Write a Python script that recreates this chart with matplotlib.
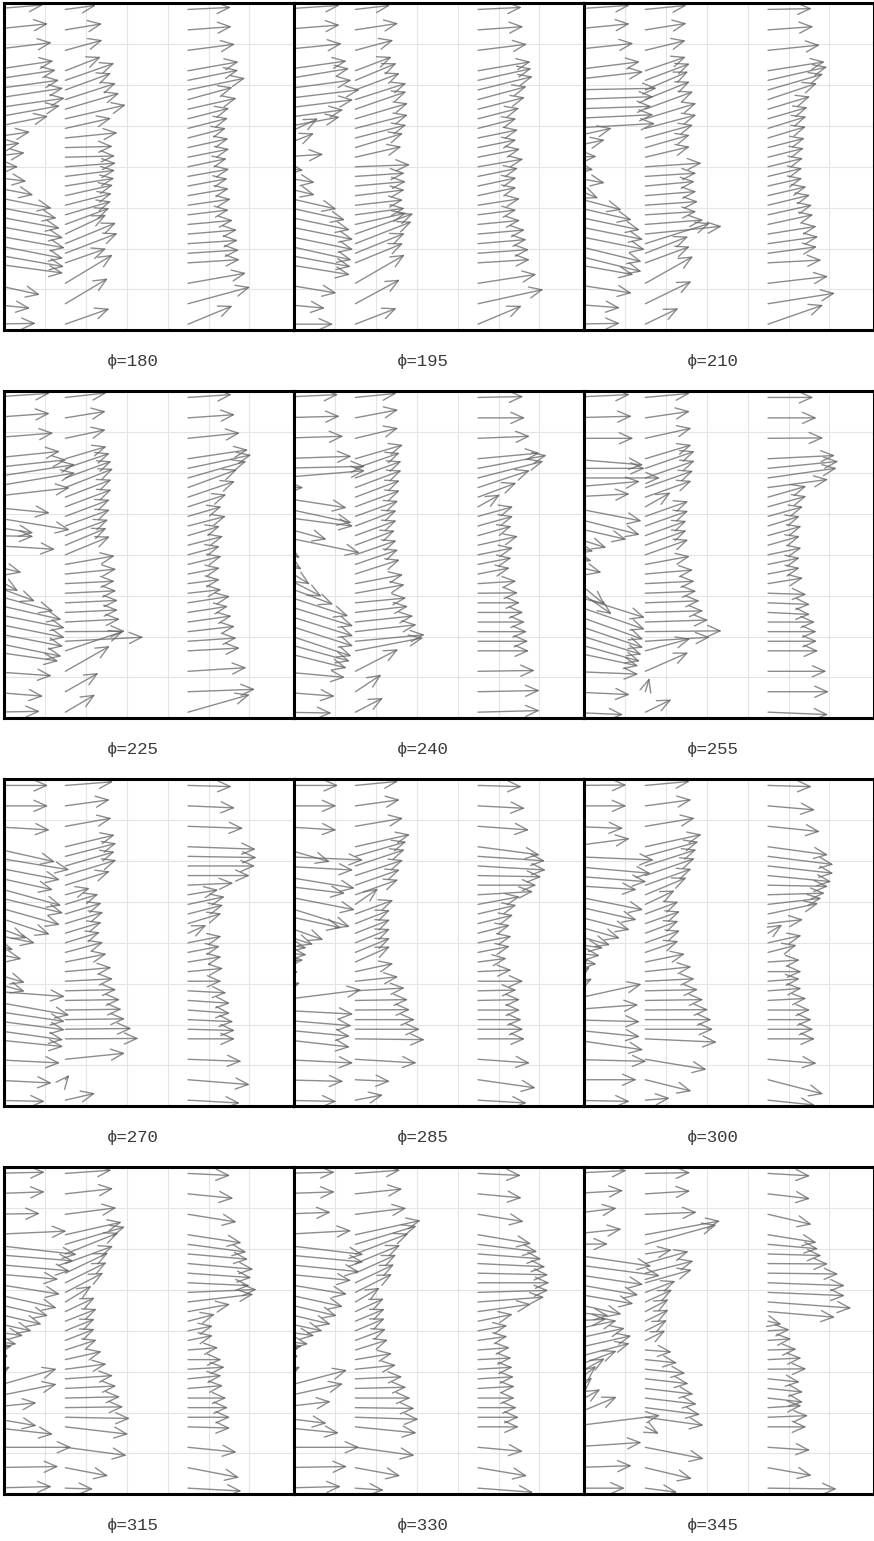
import numpy as np
import matplotlib.pyplot as plt
from matplotlib.patches import FancyArrowPatch

# heights of the sample points (same for every station)
heights = [7.85, 7.35, 6.85, 6.35, 6.115, 5.88, 5.645, 5.41, 5.175, 4.94, 4.705,
           4.47, 4.235, 4.0, 3.765, 3.53, 3.295, 3.06, 2.825, 2.59, 2.355, 2.12,
           1.885, 1.65, 1.15, 0.65, 0.15]
stations = [-0.4, 1.5, 4.5]
phases = [180, 195, 210, 225, 240, 255, 270, 285, 300, 315, 330, 345]

# u, v per phase: one row per station, one value per height
u_180 = [[1.36,1.48,1.57,1.61,1.67,1.75,1.85,1.89,1.77,1.48,1.04,0.79,0.91,0.75,0.95,1.12,1.57,1.69,1.77,1.85,1.89,1.85,1.87,1.85,1.28,1.04,1.18],
         [.75,.9,.91,.87,1.2,1.12,1.24,1.32,1.48,1.12,1.28,1.16,1.22,1.24,1.22,1.2,1.17,1.14,1.12,1.08,1.0,1.24,1.28,1.0,1.16,1.04,1.08],
         [1.05,1.07,1.15,1.24,1.23,1.40,1.09,1.19,1.01,.98,.93,.99,1.01,.95,1.01,.97,1.0,1.05,1.0,1.1,1.2,1.22,1.25,1.27,1.42,1.52,1.09]]
v_180 = [[.11,.15,.19,.24,.25,.24,.28,.27,.32,.30,.15,.11,.11,0,-.12,-.22,-.31,-.32,-.33,-.33,-.34,-.36,-.33,-.25,-.28,-.11,.02],
         [.1,.15,.25,.34,.42,.41,.4,.39,.34,.25,.13,.03,.03,.09,.15,.19,.26,.29,.33,.4,.47,.51,.49,.35,.7,.62,.38],
         [.05,.08,.15,.22,.25,.29,.30,.27,.26,.25,.24,.22,.2,.2,.18,.18,.17,.15,.12,.1,.1,.08,.08,.08,.25,.41,.45]]

u_195 = [[1.52,1.52,1.57,1.69,1.75,1.81,2.01,1.85,1.61,1.52,.99,.89,1.12,.63,.91,.91,1.44,1.65,1.77,1.85,1.85,1.81,1.79,1.77,1.44,1.16,1.36],
         [.85,1.05,.93,.89,1.01,1.09,1.25,1.25,1.29,1.29,1.25,1.17,1.13,1.34,1.21,1.24,1.21,1.17,1.21,1.25,1.42,1.38,1.21,1.17,1.21,1.09,1.01],
         [1.07,1.11,1.2,1.29,1.31,1.34,1.19,1.15,1.01,.94,.98,.94,1.03,1.11,.98,.94,.94,1.03,.94,1.03,1.15,1.19,1.25,1.27,1.43,1.6,1.07]]
v_195 = [[.1,.12,.16,.24,.29,.24,.24,.23,.22,.28,.48,.35,.07,-.09,-.15,-.22,-.33,-.36,-.37,-.37,-.38,-.4,-.33,-.29,-.24,-.11,0],
         [.1,.16,.25,.34,.42,.41,.4,.43,.38,.33,.32,.35,.26,.05,.08,.11,.14,.13,.16,.28,.5,.54,.49,.48,.7,.59,.39],
         [.05,.08,.15,.22,.29,.33,.32,.29,.26,.24,.2,.19,.2,.19,.2,.2,.2,.16,.12,.1,.1,.1,.09,.08,.22,.35,.45]]

u_210 = [[1.52,1.52,1.61,1.77,1.85,2.18,2.1,2.05,2.1,2.14,1.08,.91,.71,.63,.91,.75,1.32,1.57,1.77,1.85,1.89,1.81,1.81,1.61,1.57,1.28,1.28],
         [1.01,1.01,.99,.99,1.09,1.05,1.09,1.17,1.25,1.25,1.17,1.09,1.09,1.38,1.25,1.21,1.25,1.29,1.25,1.42,1.87,1.58,1.05,1.09,1.17,1.13,.81],
         [1.07,1.11,1.27,1.39,1.45,1.35,1.2,1.03,.97,.94,.93,.9,.88,.86,.84,.84,.94,1.03,1.08,1.11,1.19,1.23,1.2,1.31,1.47,1.64,1.35]]
v_210 = [[.1,.15,.17,.22,.21,.04,.07,.07,.1,.12,.24,.19,.02,-.07,-.16,-.3,-.35,-.36,-.37,-.37,-.38,-.44,-.45,-.29,-.24,-.1,.02],
         [.1,.16,.24,.34,.41,.45,.44,.43,.38,.33,.32,.31,.26,.09,.08,.11,.1,.09,.08,.11,.19,.5,.41,.4,.66,.55,.39],
         [.02,.08,.13,.22,.33,.39,.4,.31,.28,.29,.28,.23,.22,.21,.2,.19,.22,.25,.24,.24,.19,.17,.16,.07,.17,.26,.47]]

u_225 = [[1.52,1.52,1.61,1.77,1.93,2.14,2.14,2.01,1.52,2.01,1.12,1.12,1.65,.47,.83,.75,1.16,1.61,1.81,1.89,1.89,1.85,1.81,1.73,1.57,1.36,1.28],
         [1.01,.99,.99,1.01,1.09,1.13,1.17,1.13,1.13,1.09,1.09,1.05,1.01,1.09,1.21,1.25,1.21,1.25,1.29,1.29,1.34,1.46,1.91,1.42,1.09,.81,.73],
         [1.07,1.15,1.27,1.47,1.55,1.43,1.2,1.15,.94,.82,.93,.78,.86,.78,.82,.78,.78,.82,1.03,.98,1.07,1.15,1.19,1.27,1.43,1.64,1.51]]
v_225 = [[.1,.11,.13,.18,.21,.33,.36,.23,-.15,-.33,-.17,-.02,-.1,-.11,-.2,-.42,-.43,-.44,-.41,-.38,-.38,-.36,-.37,-.25,-.11,-.11,.02],
         [.11,.16,.21,.3,.37,.41,.46,.43,.42,.41,.4,.39,.42,.45,.21,.12,.06,.06,.06,.06,.07,.01,.1,.48,.62,.46,.43],
         [.07,.08,.13,.22,.33,.41,.44,.39,.3,.24,.24,.23,.22,.21,.2,.15,.1,.09,.16,.15,.15,.13,.08,.07,.09,.06,.43]]

u_240 = [[1.48,1.52,1.61,1.81,2.14,2.14,.63,1.69,1.81,1.85,1.2,2.01,.55,.59,.79,1.08,1.36,1.73,1.85,1.85,1.85,1.81,1.77,1.69,1.65,1.4,1.32],
         [1.01,1.05,1.05,1.17,1.09,1.13,1.13,1.09,1.09,1.05,1.01,1.01,.97,1.01,1.05,1.09,1.17,1.21,1.25,1.29,1.42,1.5,1.7,1.66,1.05,.64,.68],
         [1.11,1.15,1.27,1.51,1.68,1.6,1.27,.94,.54,.86,.86,.82,.98,.86,.82,.78,.94,.98,1.03,1.11,1.15,1.2,1.23,1.25,1.39,1.51,1.51]]
v_240 = [[.07,.04,.05,.06,.05,.18,0,-.26,-.39,-.24,-.33,-.42,-.31,-.36,-.49,-.55,-.51,-.56,-.57,-.58,-.59,-.6,-.49,-.42,-.15,-.11,-.02],
         [.1,.2,.25,.34,.38,.41,.42,.41,.4,.38,.38,.37,.36,.35,.36,.35,.22,.21,.12,.15,.15,.17,.16,.32,.54,.42,.35],
         [.02,0,.05,.14,.32,.41,.42,.35,.3,.24,.24,.23,.22,.17,.16,.15,.06,.01,0,0,0,0,0,0,.02,.03,.04]]

u_255 = [[1.52,1.57,1.61,1.85,1.89,2.26,1.77,1.52,1.81,1.77,1.44,.95,.63,.59,.83,.91,1.08,1.89,1.89,1.85,1.85,1.81,1.77,1.73,1.73,1.52,1.36],
         [1.09,1.09,1.13,1.13,1.21,1.21,1.17,1.13,.62,1.05,1.05,1.01,1.01,1.05,1.09,1.17,1.21,1.25,1.33,1.42,1.54,1.87,1.58,1.1,1.05,.1,.64],
         [1.11,1.19,1.35,1.64,1.72,1.68,1.47,.94,.94,.86,.78,.82,.78,.82,.78,.78,.86,.94,1.03,1.03,1.15,1.19,1.2,1.23,1.43,1.49,1.47]]
v_255 = [[.07,.04,0,-.15,0,0,.15,.08,-.35,-.45,-.33,-.3,-.15,-.15,-.2,-.75,-.75,-.6,-.65,-.66,-.63,-.56,-.49,-.37,-.07,-.07,-.06],
         [.1,.16,.25,.34,.42,.42,.41,.4,.35,.37,.37,.36,.36,.37,.2,.1,.06,.05,.05,.04,.05,.02,.1,.3,.46,.34,.31],
         [0,0,.01,.08,.17,.24,.2,.27,.26,.24,.24,.23,.22,.17,.16,.15,.14,-.03,-.04,-.05,0,0,0,0,0,0,-.06]]

u_270 = [[1.48,1.48,1.52,1.65,2.0,1.77,1.6,1.8,1.85,1.77,1.52,.95,1.16,.63,.83,.47,.91,.91,1.89,2.0,1.89,1.89,1.85,1.85,1.77,1.57,1.4],
         [1.17,1.09,1.13,1.21,1.25,1.21,1.25,1.09,.6,.81,.89,.93,.89,.85,.93,1.01,1.13,1.17,1.25,1.34,1.38,1.46,1.62,1.79,1.46,.1,.73],
         [1.07,1.15,1.35,1.66,1.68,1.64,1.51,1.11,.74,.9,.86,.82,.45,.82,.78,.82,.86,.82,.94,1.03,1.03,1.11,1.15,1.15,1.31,1.51,1.27]]
v_270 = [[0,0,-.09,-.37,-.33,-.34,-.35,-.5,-.45,-.5,-.5,-.36,-.24,-.17,-.16,-.28,-.27,-.25,-.14,-.36,-.28,-.25,-.26,-.19,-.09,-.08,-.03],
         [.09,.15,.2,.29,.32,.35,.38,.34,.16,.25,.27,.28,.27,.26,.25,.2,.1,.06,.03,.02,.02,.02,.02,.01,.15,.12,.17],
         [-.03,-.05,-.05,-.06,-.03,0,0,.05,.12,.19,.22,.25,.2,.16,.15,.13,.08,0,-.05,-.07,-.08,-.05,-.03,0,-.05,-.12,-.07]]

u_285 = [[1.48,1.44,1.44,1.28,2.09,1.85,1.89,1.65,1.89,1.77,1.56,1.12,.87,.71,.71,.63,.5,.5,.55,2.05,1.85,1.81,1.77,1.77,1.85,1.61,1.44],
         [1.05,1.09,1.17,1.34,1.25,1.21,1.17,1.09,1.05,.56,.93,.85,.85,.85,.85,.85,.93,1.05,1.21,1.29,1.34,1.46,1.58,1.7,1.5,.85,.68],
         [1.07,1.15,1.25,1.51,1.64,1.66,1.55,1.43,1.35,1.03,.94,.86,.78,.82,.78,.7,.82,1.11,.94,1.03,1.03,1.07,1.11,1.15,1.27,1.41,1.19]]
v_285 = [[0,0,-.09,-.37,-.09,-.1,-.31,-.2,-.37,-.55,-.34,-.4,-.28,-.13,-.06,.05,.3,.25,.2,.26,-.1,-.15,-.17,-.2,-.09,-.04,-.03],
         [.1,.15,.2,.3,.36,.4,.38,.38,.37,.39,.34,.33,.33,.34,.35,.38,.2,.11,.07,.02,.01,0,0,-.02,-.09,-.04,.13],
         [-.03,-.06,-.09,-.2,-.11,-.1,-.03,0,.08,.19,.22,.21,.2,.16,.15,.09,.04,0,.02,.02,0,0,0,0,-.09,-.2,-.07]]

u_300 = [[1.44,1.44,1.36,1.52,2.11,2.03,1.93,1.69,1.85,1.69,1.52,1.28,1.04,.87,.79,.71,.5,.55,.6,1.81,1.73,1.77,1.77,1.85,1.93,1.69,1.52],
         [1.09,1.13,1.21,1.38,1.3,1.25,1.21,1.13,1.01,.72,.81,.85,.81,.85,.81,.97,1.13,1.21,1.29,1.42,1.54,1.62,1.66,1.75,1.5,1.13,.6],
         [1.07,1.15,1.27,1.47,1.6,1.6,1.55,1.47,1.39,1.31,1.23,.86,.35,.82,.7,.78,.82,.78,.82,.94,1.03,1.07,1.11,1.15,1.19,1.35,1.15]]
v_300 = [[.01,0,-.05,.2,-.09,-.18,-.15,-.11,-.37,-.38,-.39,-.36,-.29,-.13,-.08,-.05,.3,.35,.3,.4,.13,-.05,-.18,-.27,-.05,0,-.03],
         [.1,.15,.2,.3,.36,.4,.42,.4,.42,.34,.3,.3,.3,.3,.28,.2,.12,.06,.03,.02,.01,0,0,-.08,-.25,-.28,.05],
         [-.03,-.1,-.13,-.2,-.2,-.18,-.15,-.03,.04,.15,.26,.1,.21,.18,.18,.05,0,.06,.06,.05,0,0,0,0,-.1,-.35,-.12]]

u_315 = [[1.4,1.4,1.28,1.93,2.18,2.1,2.01,1.73,1.77,1.69,1.48,1.32,1.08,.87,.71,.6,.45,.5,.55,1.69,1.69,1.2,1.2,1.6,2.05,1.73,1.57],
         [1.13,1.17,1.25,1.38,1.46,1.3,1.17,1.05,1.01,.93,.64,.72,.77,.72,.72,.77,.89,1.01,1.17,1.25,1.34,1.42,1.58,1.54,1.5,1.05,.68],
         [1.03,1.11,1.19,1.31,1.43,1.47,1.6,1.55,1.51,1.68,1.6,1.03,.66,.61,.61,.74,.82,.9,.82,.86,.94,.98,1.03,1.03,1.19,1.25,1.31]]
v_315 = [[.03,.05,.02,.09,-.25,-.17,-.18,-.15,-.28,-.38,-.34,-.31,-.24,-.12,-.09,.1,.3,.35,.3,.48,.34,.12,-.21,-.18,0,.03,.04],
         [.08,.13,.16,.31,.43,.52,.43,.5,.5,.48,.39,.34,.3,.29,.28,.25,.2,.13,.08,.06,.03,.02,-.03,-.18,-.2,-.2,-.02],
         [-.05,-.11,-.19,-.2,-.19,-.13,-.14,-.11,-.07,.07,.19,.18,.17,.12,.12,.06,0,.05,.08,.07,0,0,0,-.03,-.12,-.24,-.07]]

u_330 = [[1.4,1.4,1.3,1.8,2.1,2.1,2.0,1.8,1.7,1.6,1.45,1.3,1.1,.9,.75,.6,.5,.5,.55,1.7,1.6,1.3,1.2,1.5,2.0,1.7,1.55],
         [1.1,1.15,1.25,1.6,1.5,1.3,1.1,1.0,.95,.9,.6,.7,.72,.72,.75,.8,.9,1.0,1.15,1.25,1.35,1.45,1.55,1.5,1.45,1.1,.7],
         [1.05,1.07,1.12,1.3,1.45,1.55,1.65,1.72,1.75,1.72,1.62,1.3,.85,.72,.72,.78,.82,.85,.88,.9,.9,.95,1.0,1.0,1.1,1.2,1.35]]
v_330 = [[.03,.05,.05,.1,-.25,-.2,-.2,-.18,-.28,-.35,-.34,-.31,-.24,-.12,-.09,.1,.3,.35,.3,.45,.35,.15,-.15,-.15,0,.03,.04],
         [.08,.12,.15,.35,.45,.5,.45,.45,.45,.45,.35,.32,.3,.3,.28,.25,.15,.1,.05,.03,0,-.02,-.05,-.15,-.2,-.2,-.05],
         [-.05,-.1,-.18,-.22,-.18,-.12,-.08,-.04,0,.05,.12,.18,.17,.13,.1,.06,.04,.05,.05,.05,0,0,0,0,-.1,-.2,-.1]]

u_345 = [[1.44,1.36,1.2,1.32,.99,2.05,2.26,1.85,1.73,1.61,1.32,1.0,.95,1.2,1.4,1.56,1.52,1.2,.91,.7,.6,.8,1.2,2.26,1.81,1.57,1.4],
         [1.1,1.1,1.26,1.83,1.74,.65,1.06,1.18,1.14,.74,.66,.57,.57,.53,.49,.65,.78,.98,1.06,1.18,1.26,1.34,1.43,.33,1.43,1.14,.78],
         [1.03,1.03,1.07,1.19,1.23,1.31,1.47,1.72,1.88,1.88,2.04,1.64,.33,.53,.57,.7,.82,.94,.78,.86,.86,.82,.98,.94,1.03,1.07,1.68]]
v_345 = [[.07,.08,.15,.14,.01,-.3,-.3,-.28,-.3,-.28,-.3,-.1,.05,.25,.3,.35,.4,.45,.5,.55,.5,.45,.5,.28,.12,.05,0],
         [.02,.07,.05,.34,.48,.1,.3,.3,.32,.28,.3,.3,.28,.26,.24,-.05,-.08,-.1,-.12,-.14,-.15,-.17,-.2,-.17,-.28,-.27,-.1],
         [-.06,-.12,-.25,-.19,-.11,-.04,-.01,-.02,-.07,-.08,-.15,-.14,-.08,.03,.04,.02,.04,.01,-.08,-.09,-.1,.05,.04,0,-.07,-.19,-.02]]

fields = {180: (u_180, v_180), 195: (u_195, v_195), 210: (u_210, v_210),
          225: (u_225, v_225), 240: (u_240, v_240), 255: (u_255, v_255),
          270: (u_270, v_270), 285: (u_285, v_285), 300: (u_300, v_300),
          315: (u_315, v_315), 330: (u_330, v_330), 345: (u_345, v_345)}

W, H = 874, 1541
fig = plt.figure(figsize=(W / 100, H / 100), dpi=100)

for k, phi in enumerate(phases):
    r, c = divmod(k, 3)
    x0 = 4 + 290 * c
    y0 = 3.3 + 388 * r
    ax = fig.add_axes([x0 / W, 1 - (y0 + 327) / H, 290 / W, 327 / H])
    ax.set_xlim(0, 290 / 40.9)
    ax.set_ylim(0, 8)
    ax.set_xticks(range(1, 7))
    ax.set_yticks(range(1, 8))
    ax.tick_params(length=0, labelbottom=False, labelleft=False)
    ax.grid(color='#e4e4e4', lw=0.8)
    ax.set_axisbelow(True)
    for s in ax.spines.values():
        s.set_linewidth(2.2)
        s.set_color('black')

    u, v = fields[phi]
    for j, xs in enumerate(stations):
        for i, y in enumerate(heights):
            arr = FancyArrowPatch((xs, y), (xs + u[j][i], y + v[j][i]),
                                  arrowstyle='->,head_length=0.45,head_width=0.2',
                                  mutation_scale=20, color='0.4', lw=1.0,
                                  alpha=0.75, shrinkA=0, shrinkB=0)
            ax.add_patch(arr)

    fig.text((x0 + 129) / W, 1 - (y0 + 327 + 31) / H, f'ϕ={phi}',
             ha='center', va='center', fontsize=12.5, color='#3a3a3a',
             family=['Liberation Mono', 'DejaVu Sans Mono'])

fig.savefig('out.png', dpi=100)
